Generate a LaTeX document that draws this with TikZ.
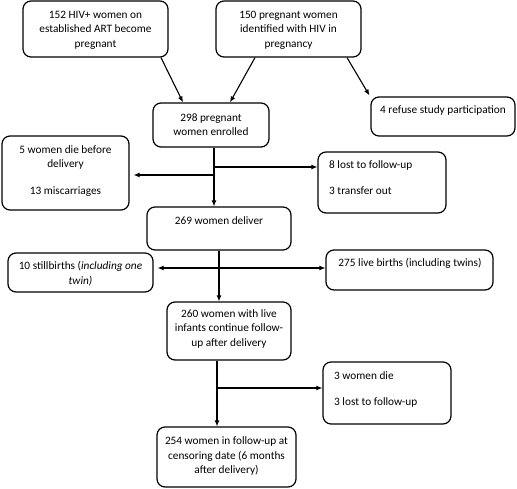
\documentclass[tikz,border=0pt]{standalone}
\usepackage{fontspec}
\setmainfont{Carlito}
\usetikzlibrary{arrows.meta,calc}
\tikzset{
  box/.style={draw, rounded corners=8pt, line width=1.2pt, fill=white, inner sep=0pt},
  txt/.style={align=center, inner sep=0pt, font=\fontsize{11.3}{14.5}\selectfont},
  ltxt/.style={align=left, anchor=west, inner sep=0pt, font=\fontsize{11.3}{14.5}\selectfont},
  arr/.style={line width=1.1pt, -{Latex[length=6pt,width=5pt]}},
  ln/.style={line width=1.1pt}
}
\begin{document}
\begin{tikzpicture}[x=1pt,y=-1pt]
\useasboundingbox[fill=white] (0,0) rectangle (517,489);
% boxes
\node[box, minimum width=145, minimum height=56] (A) at (95.5,29) {};
\node[box, minimum width=145, minimum height=56] (B) at (288.5,29) {};
\node[box, minimum width=116, minimum height=44] (C) at (211,125) {};
\node[box, minimum width=144, minimum height=39] (D) at (443,116.5) {};
\node[box, minimum width=127, minimum height=74] (E) at (65.5,173) {};
\node[box, minimum width=128, minimum height=61] (F) at (382,182.5) {};
\node[box, minimum width=144, minimum height=43] (G) at (219,228.5) {};
\node[box, minimum width=145, minimum height=39] (H) at (80.5,272.5) {};
\node[box, minimum width=167, minimum height=40] (I) at (409.5,270) {};
\node[box, minimum width=124, minimum height=58] (J) at (229,331) {};
\node[box, minimum width=128, minimum height=62] (K) at (387,393) {};
\node[box, minimum width=139, minimum height=60] (L) at (226.5,457) {};
% texts
\node[txt] (At) at (95.5,30) {152 HIV+ women on\\established ART become\\pregnant};
\node[txt] (Bt) at (288.5,30) {150 pregnant women\\identified with HIV in\\pregnancy};
\node[txt] (Ct) at (211,124.5) {298 pregnant\\women enrolled};
\node[txt] (Dt) at (443,110) {4 refuse study participation};
\node[txt] (Et) at (65.5,171) {5 women die before\\delivery\\[12.5pt]13 miscarriages};
\node[ltxt] (Ft) at (329,178) {8 lost to follow-up\\[11.5pt]3 transfer out};
\node[txt] (Gt) at (219,221) {269 women deliver};
\node[txt] (Ht) at (80.5,273.5) {10 stillbirths (\textit{including one}\\\textit{twin)}};
\node[txt] (It) at (410,263) {275 live births (including twins)};
\node[txt] (Jt) at (229,328.5) {260 women with live\\infants continue follow-\\up after delivery};
\node[ltxt] (Kt) at (334,389) {3 women die\\[11.5pt]3 lost to follow-up};
\node[txt] (Lt) at (226.5,456) {254 women in follow-up at\\censoring date (6 months\\after delivery)};
% connectors
\draw[arr] ([xshift=65.5]A.south) -- ([xshift=-28]C.north);
\draw[arr] ([xshift=-33.5]B.south) -- ([xshift=19]C.north);
\draw[arr] ([xshift=58.5]B.south) -- ([xshift=-1,yshift=1]D.north west);
% C -> G
\draw[arr] ([xshift=3]C.south) -- ([xshift=3]C.south |- G.north);
\coordinate (c1) at (214,167);
\coordinate (c2) at (214,175);
\draw[arr] (c1) -- (c1 -| F.west);
\draw[arr] (c2) -- ([xshift=4]c2 -| E.east);
% G -> J
\draw[arr] (G.south) -- (G.south |- J.north);
\coordinate (g1) at (219,268);
\draw[arr] (g1) -- ([xshift=4]g1 -| H.east);
\draw[arr] (g1) -- (g1 -| I.west);
% J -> L
\draw[arr] ([xshift=-12]J.south) -- ([xshift=-12]J.south |- L.north);
\coordinate (j1) at (217,388);
\draw[arr] (j1) -- (j1 -| K.west);
\end{tikzpicture}
\end{document}
